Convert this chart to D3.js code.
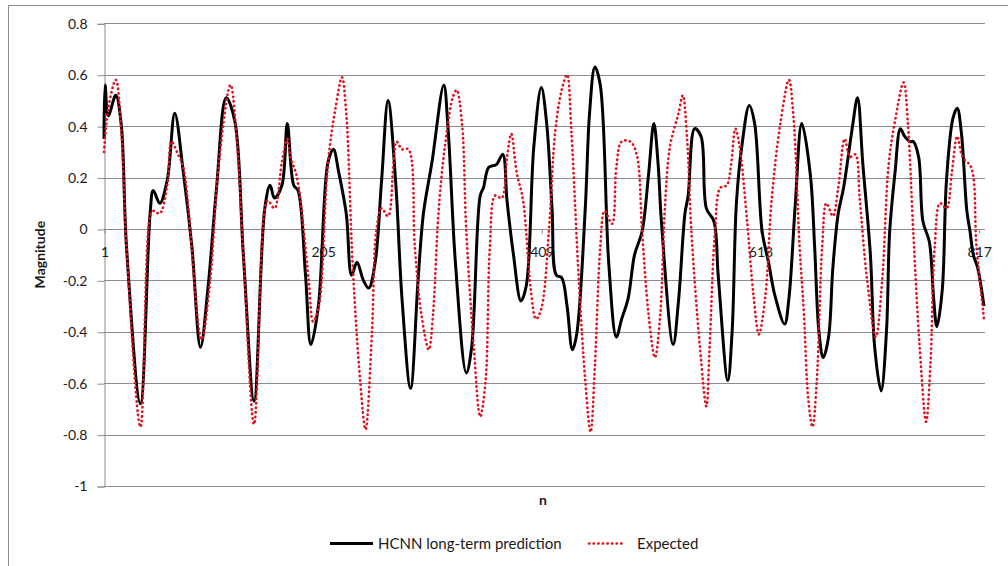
<!DOCTYPE html>
<html>
<head>
<meta charset="utf-8">
<script src="https://cdn.jsdelivr.net/npm/d3@7"></script>
<style>
  html, body { margin: 0; padding: 0; background: #fff; }
  svg { display: block; font-family: Lato, "Open Sans", sans-serif; }
</style>
</head>
<body>
<div id="chart"></div>
<script>
// --- values ---
const xTicks = [1, 205, 409, 613, 817];
const yTicks = [0.8, 0.6, 0.4, 0.2, 0, -0.2, -0.4, -0.6, -0.8, -1];

// HCNN long-term prediction (black, solid)
const predN = [1, 2, 5, 12, 17, 22, 35, 44, 47, 53, 60, 67, 75, 83, 91, 98, 106, 115, 123, 131,
  141, 151, 156, 160, 167, 172, 178, 182, 189, 194, 201, 210, 215, 220, 227, 232, 237, 243, 248, 254,
  260, 266, 273, 279, 287, 294, 299, 307, 318, 322, 329, 339, 344, 352, 355, 360, 367, 373, 377, 383,
  390, 395, 402, 409, 414, 419, 423, 428, 433, 438, 442, 450, 454, 459, 464, 472, 479, 484, 490, 496,
  503, 509, 514, 518, 521, 532, 537, 543, 546, 552, 558, 563, 570, 574, 583, 587, 591, 596, 603, 608,
  615, 621, 627, 636, 640, 646, 652, 660, 664, 668, 672, 677, 681, 686, 691, 699, 704, 709, 716, 720,
  726, 731, 734, 739, 744, 748, 753, 756, 761, 765, 771, 775, 778, 783, 787, 793, 797, 801, 806, 809,
  812, 816, 822];
const predVal = [0.35, 0.56, 0.44, 0.52, 0.41, -0.07, -0.68, 0.06, 0.15, 0.10, 0.19, 0.45, 0.22, -0.07, -0.46, -0.23, 0.16, 0.51, 0.42, -0.10,
  -0.67, 0.08, 0.17, 0.12, 0.17, 0.41, 0.17, 0.15, -0.18, -0.45, -0.30, 0.26, 0.31, 0.22, 0.06, -0.18, -0.13, -0.20, -0.23, -0.13,
  0.19, 0.50, 0.19, -0.27, -0.62, -0.20, 0.06, 0.26, 0.56, 0.39, -0.14, -0.56, -0.46, 0.13, 0.16, 0.24, 0.25, 0.29, 0.11, -0.10,
  -0.28, -0.22, 0.32, 0.55, 0.41, 0.08, -0.18, -0.19, -0.30, -0.47, -0.41, 0.08, 0.45, 0.63, 0.56, -0.14, -0.42, -0.35, -0.27, -0.10,
  -0.01, 0.21, 0.41, 0.25, 0.03, -0.45, -0.28, 0.06, 0.13, 0.39, 0.36, 0.08, 0.03, -0.18, -0.59, -0.40, 0.10, 0.32, 0.48, 0.41,
  -0.01, -0.13, -0.26, -0.37, -0.27, 0.10, 0.41, 0.21, -0.07, -0.40, -0.50, -0.42, -0.15, 0.06, 0.16, 0.39, 0.51, 0.25, -0.10, -0.46,
  -0.63, -0.40, -0.01, 0.22, 0.39, 0.36, 0.34, 0.34, 0.28, 0.03, -0.05, -0.27, -0.38, -0.24, 0.19, 0.43, 0.47, 0.37, 0.07, -0.01,
  -0.10, -0.15, -0.30];

// Expected (red, dotted)
const expN = [1, 5, 12, 17, 22, 35, 44, 47, 53, 60, 64, 70, 75, 92, 100, 108, 119, 125, 131, 141,
  151, 154, 160, 167, 172, 175, 181, 192, 196, 201, 210, 217, 223, 227, 233, 240, 245, 251, 255, 260,
  266, 271, 274, 279, 285, 291, 297, 304, 308, 313, 319, 327, 330, 335, 339, 346, 352, 357, 361, 366,
  372, 377, 381, 386, 392, 399, 404, 409, 416, 422, 428, 433, 437, 444, 450, 455, 459, 464, 468, 475,
  479, 484, 492, 498, 503, 509, 515, 520, 524, 529, 537, 541, 545, 549, 557, 563, 566, 571, 576, 582,
  586, 590, 594, 601, 607, 612, 618, 624, 632, 640, 644, 650, 654, 658, 662, 666, 671, 675, 681, 686,
  692, 697, 702, 706, 713, 721, 727, 733, 739, 747, 751, 756, 762, 768, 772, 776, 781, 787, 792, 797,
  802, 810, 815, 822];
const expVal = [0.30, 0.47, 0.58, 0.39, -0.07, -0.77, 0.05, 0.07, 0.06, 0.17, 0.34, 0.29, 0.24, -0.43, -0.20, 0.25, 0.56, 0.34, -0.10, -0.76,
  0.08, 0.11, 0.08, 0.26, 0.35, 0.28, 0.20, -0.20, -0.36, -0.31, 0.26, 0.47, 0.59, 0.45, -0.14, -0.59, -0.78, -0.40, -0.01, 0.08,
  0.05, 0.25, 0.34, 0.31, 0.31, -0.07, -0.33, -0.47, -0.33, 0.06, 0.32, 0.52, 0.54, 0.41, -0.01, -0.46, -0.73, -0.59, -0.07, 0.13,
  0.12, 0.28, 0.37, 0.22, 0.11, -0.23, -0.35, -0.31, -0.01, 0.38, 0.54, 0.60, 0.38, -0.20, -0.59, -0.79, -0.53, -0.07, 0.07, 0.02,
  0.24, 0.34, 0.34, 0.29, -0.01, -0.33, -0.50, -0.33, 0.06, 0.32, 0.45, 0.52, 0.35, -0.01, -0.46, -0.69, -0.46, -0.01, 0.16, 0.17,
  0.25, 0.39, 0.32, 0.03, -0.26, -0.41, -0.26, 0.12, 0.41, 0.58, 0.45, -0.07, -0.33, -0.66, -0.77, -0.59, -0.07, 0.10, 0.05, 0.16,
  0.35, 0.28, 0.29, 0.12, -0.20, -0.42, -0.20, 0.25, 0.42, 0.57, 0.41, -0.01, -0.46, -0.75, -0.53, -0.07, 0.10, 0.08, 0.22, 0.36,
  0.28, 0.24, -0.07, -0.35];

const seriesNames = ['HCNN long-term prediction', 'Expected'];

// --- layout ---
const W = 1008, H = 566;
const plot = { left: 104, right: 985, top: 23.3, bottom: 486 };

const svg = d3.select('#chart').append('svg')
  .attr('width', W).attr('height', H)
  .attr('viewBox', `0 0 ${W} ${H}`);

// outer chart frame (runs off the right/bottom edge like the screenshot)
svg.append('rect')
  .attr('x', 8.5).attr('y', 5.5)
  .attr('width', W + 20).attr('height', H + 20)
  .attr('fill', 'none').attr('stroke', '#8c8c8c').attr('stroke-width', 1);

const x = d3.scaleLinear().domain([1, 822]).range([plot.left, 984]);
const y = d3.scaleLinear().domain([-1, 0.8]).range([plot.bottom, plot.top]);

// horizontal gridlines
svg.append('g')
  .selectAll('line')
  .data(yTicks)
  .enter()
  .append('line')
  .attr('x1', plot.left).attr('x2', plot.right)
  .attr('y1', d => Math.round(y(d)) + 0.5).attr('y2', d => Math.round(y(d)) + 0.5)
  .attr('stroke', '#8c8c8c').attr('stroke-width', 1);

// y axis
const yAxis = svg.append('g')
  .attr('transform', `translate(${plot.left + 0.5},0.5)`)
  .call(d3.axisLeft(y).tickValues(yTicks).tickSize(7).tickPadding(10)
    .tickFormat(d => String(+d.toFixed(1))));
yAxis.select('.domain').attr('stroke', '#8c8c8c');
yAxis.selectAll('.tick line').attr('stroke', '#8c8c8c');
yAxis.selectAll('.tick text')
  .style('font-family', 'Lato, "Open Sans", sans-serif')
  .style('font-size', '14px').style('fill', '#1a1a1a');

// x (category) axis crossing at 0
const xAxis = svg.append('g')
  .attr('transform', `translate(0.5,${Math.round(y(0)) + 0.5})`)
  .call(d3.axisBottom(x).tickValues(xTicks).tickSize(4).tickPadding(14).tickFormat(d => d));
xAxis.select('.domain').remove();
xAxis.selectAll('.tick line').attr('stroke', '#8c8c8c');
xAxis.selectAll('.tick text')
  .style('font-family', 'Lato, "Open Sans", sans-serif')
  .style('font-size', '14px').style('fill', '#1a1a1a');

// lines
const line = d3.line()
  .x(d => x(d[0]))
  .y(d => y(d[1]))
  .curve(d3.curveCatmullRom.alpha(0.5));

const expData = d3.zip(expN, expVal);
const predData = d3.zip(predN, predVal);

svg.append('path')
  .datum(predData)
  .attr('d', line)
  .attr('fill', 'none')
  .attr('stroke', '#000')
  .attr('stroke-width', 3)
  .attr('stroke-linejoin', 'round');

svg.append('path')
  .datum(expData)
  .attr('d', line)
  .attr('fill', 'none')
  .attr('stroke', '#e0141e')
  .attr('stroke-width', 2.6)
  .attr('stroke-linecap', 'round')
  .attr('stroke-dasharray', '0.4 4.2');

// axis titles
svg.append('text')
  .attr('transform', `translate(45,${(plot.top + plot.bottom) / 2}) rotate(-90)`)
  .attr('text-anchor', 'middle')
  .style('font-family', 'Lato, "Open Sans", sans-serif')
  .style('font-size', '14px').style('font-weight', 'bold').style('fill', '#1a1a1a')
  .text('Magnitude');

svg.append('text')
  .attr('x', 543).attr('y', 505)
  .attr('text-anchor', 'middle')
  .style('font-family', 'Lato, "Open Sans", sans-serif')
  .style('font-size', '14px').style('font-weight', 'bold').style('fill', '#1a1a1a')
  .text('n');

// legend
const legend = svg.append('g').attr('transform', 'translate(0,543.5)');
legend.append('line')
  .attr('x1', 330).attr('x2', 373).attr('y1', 0).attr('y2', 0)
  .attr('stroke', '#000').attr('stroke-width', 3);
legend.append('text')
  .attr('x', 378).attr('y', 5)
  .style('font-family', 'Lato, "Open Sans", sans-serif')
  .style('font-size', '15px').style('fill', '#1a1a1a')
  .text(seriesNames[0]);
legend.append('line')
  .attr('x1', 589).attr('x2', 623).attr('y1', 0).attr('y2', 0)
  .attr('stroke', '#e0141e').attr('stroke-width', 2.6)
  .attr('stroke-linecap', 'round').attr('stroke-dasharray', '0.4 4.2');
legend.append('text')
  .attr('x', 637).attr('y', 5)
  .style('font-family', 'Lato, "Open Sans", sans-serif')
  .style('font-size', '15px').style('fill', '#1a1a1a')
  .text(seriesNames[1]);
</script>
</body>
</html>
